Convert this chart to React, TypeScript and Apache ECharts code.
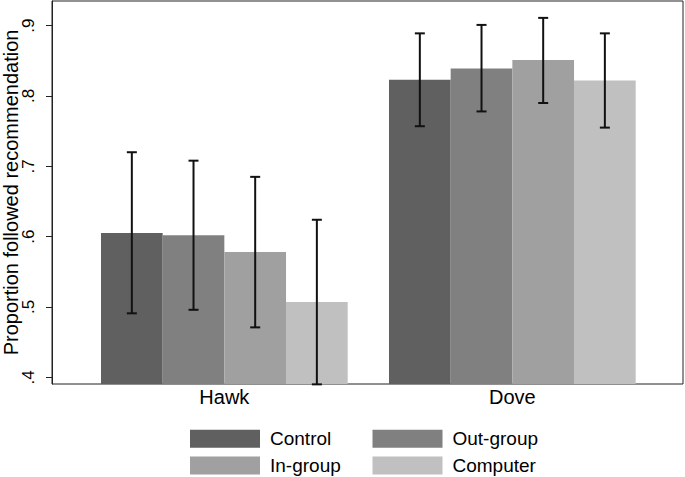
import React, { useEffect, useRef } from "react";
import * as echarts from "echarts";

const categories = ["Hawk", "Dove"];
const seriesNames = ["Control", "Out-group", "In-group", "Computer"];
const colors = ["#606060", "#808080", "#a0a0a0", "#c0c0c0"];
const controlMean = [0.605, 0.823];
const controlLow = [0.491, 0.757];
const controlHigh = [0.72, 0.889];
const outgroupMean = [0.602, 0.839];
const outgroupLow = [0.496, 0.778];
const outgroupHigh = [0.708, 0.901];
const ingroupMean = [0.578, 0.851];
const ingroupLow = [0.471, 0.79];
const ingroupHigh = [0.685, 0.911];
const computerMean = [0.507, 0.822];
const computerLow = [0.39, 0.755];
const computerHigh = [0.624, 0.889];
const yTicks = [0.4, 0.5, 0.6, 0.7, 0.8, 0.9];

const means = [controlMean, outgroupMean, ingroupMean, computerMean];
const lows = [controlLow, outgroupLow, ingroupLow, computerLow];
const highs = [controlHigh, outgroupHigh, ingroupHigh, computerHigh];

const FONT = "'Liberation Sans', Arial, Helvetica, sans-serif";
const CAT_GAP = 0.1434;
const Y_MIN = 0.3905;
const Y_MAX = 0.935;

const legendPos = [
  [190, 429.3],
  [372.5, 429.3],
  [190, 456],
  [372.5, 456],
];

export default function App() {
  const ref = useRef<HTMLDivElement>(null);
  useEffect(() => {
    if (!ref.current) return;
    const chart = echarts.init(ref.current, null, { renderer: "svg" });
    const gridTop = 1;
    const gridBottom = 93;
    const barSeries = seriesNames.map((name, i) => ({
      name,
      type: "bar",
      xAxisIndex: 1,
      yAxisIndex: 1,
      data: means[i],
      barGap: "0%",
      barCategoryGap: (CAT_GAP * 100).toFixed(2) + "%",
      itemStyle: { color: colors[i] },
      z: 2,
    }));
    const errSeries = seriesNames.map((name, i) => ({
      name: name + " CI",
      type: "custom",
      xAxisIndex: 1,
      yAxisIndex: 1,
      z: 5,
      clip: false,
      data: categories.map((_, c) => [c, lows[i][c], highs[i][c]]),
      renderItem: (params: any, api: any) => {
        const band = api.size([1, 0])[0];
        const bw = (band * (1 - CAT_GAP)) / 4;
        const off = (i - 1.5) * bw;
        const lo = api.coord([api.value(0), api.value(1)]);
        const hi = api.coord([api.value(0), api.value(2)]);
        const x = lo[0] + off;
        const cap = 5;
        const style = { stroke: "#111", lineWidth: 2 };
        return {
          type: "group",
          children: [
            { type: "line", shape: { x1: x, y1: lo[1], x2: x, y2: hi[1] }, style },
            { type: "line", shape: { x1: x - cap, y1: lo[1], x2: x + cap, y2: lo[1] }, style },
            { type: "line", shape: { x1: x - cap, y1: hi[1], x2: x + cap, y2: hi[1] }, style },
          ],
        };
      },
    }));
    const legends = seriesNames.map((name, i) => ({
      left: legendPos[i][0],
      top: legendPos[i][1],
      padding: 0,
      itemWidth: 70,
      itemHeight: 18,
      icon: "rect",
      data: [name],
      textStyle: {
        fontSize: 19,
        lineHeight: 19,
        color: "#000",
        fontFamily: FONT,
        padding: [0, 0, 0, 5],
      },
    }));
    chart.setOption({
      animation: false,
      backgroundColor: "#fff",
      textStyle: { fontFamily: FONT },
      grid: [
        {
          left: 52,
          right: 2,
          top: gridTop,
          bottom: gridBottom,
          show: true,
          borderColor: "#222",
          borderWidth: 1,
          outerBoundsMode: "none",
        },
        { left: 80.35, right: 28.65, top: gridTop, bottom: gridBottom, outerBoundsMode: "none" },
      ],
      xAxis: [
        {
          gridIndex: 0,
          type: "category",
          data: categories,
          axisLine: { show: false },
          axisTick: { show: false },
          axisLabel: { show: false },
        },
        {
          gridIndex: 1,
          type: "category",
          data: categories,
          axisLine: { show: false },
          axisTick: { show: false },
          axisLabel: { fontSize: 20, color: "#000", margin: 3, fontFamily: FONT },
        },
      ],
      yAxis: [
        {
          gridIndex: 0,
          type: "value",
          min: Y_MIN,
          max: Y_MAX,
          name: "Proportion followed recommendation",
          nameLocation: "middle",
          nameGap: 31,
          nameMoveOverlap: false,
          nameTextStyle: { fontSize: 20, color: "#000", fontFamily: FONT },
          axisLine: { show: true, lineStyle: { color: "#222" } },
          axisTick: { show: true, length: 6, customValues: yTicks, lineStyle: { color: "#222" } },
          axisLabel: {
            customValues: yTicks,
            rotate: 90,
            fontSize: 17,
            color: "#000",
            margin: 15,
            fontFamily: FONT,
            formatter: (v: number) => "." + Math.round(v * 10),
          },
          splitLine: { show: false },
        },
        {
          gridIndex: 1,
          type: "value",
          min: Y_MIN,
          max: Y_MAX,
          show: false,
          splitLine: { show: false },
        },
      ],
      legend: legends,
      series: [...barSeries, ...errSeries],
    });
    return () => chart.dispose();
  }, []);
  return <div ref={ref} style={{ width: 685, height: 477, position: "absolute", left: 0, top: 0 }} />;
}
